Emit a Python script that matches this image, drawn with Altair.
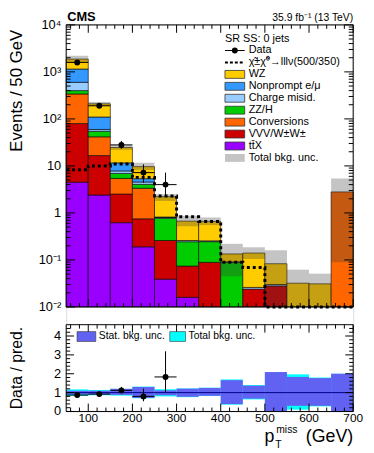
import altair as alt
import pandas as pd

# ---------------- data ----------------
bin_lo = [50, 100, 150, 200, 250, 300, 350, 400, 450, 500, 550, 600, 650]
bin_hi = [100, 150, 200, 250, 300, 350, 400, 450, 500, 550, 600, 650, 700]

# stacked backgrounds (bottom -> top)
proc_names = ["tt\u0304X", "VVV/W\u00b1W\u00b1", "Conversions", "ZZ/H",
              "Charge misid.", "Nonprompt e/\u03bc", "WZ"]
proc_colors = ["#9900ff", "#cc0000", "#ff6600", "#00cc00",
               "#99ccff", "#3399ff", "#ffcc00"]

ttx   = [4.5, 2.4, 0.62, 0.19, 0.039, 0.016, 0, 0, 0, 0, 0, 0, 0]
vvv   = [75, 14.2, 1.9, 0.56, 0.22, 0.058, 0.089, 0, 0.024, 0.028, 0, 0, 0]
conv  = [260, 25, 2.9, 2.6, 0, 0, 0, 0, 0, 0, 0, 0, 2.8]
zzh   = [60, 13, 1.5, 0.7, 0.51, 0.17, 0.156, 0.089, 0, 0, 0, 0, 0]
chmis = [200, 5, 0.9, 0.5, 0.03, 0.015, 0.01, 0.002, 0.002, 0.002, 0, 0, 0]
nonpr = [550, 50, 3.8, 0.8, 0.02, 0, 0, 0, 0, 0, 0, 0, 0]
wz    = [720, 100, 13, 4.3, 1.4, 0.41, 0.405, 0.043, 0.114, 0.053, 0.032, 0.031, 0]
stack_vals = [ttx, vvv, conv, zzh, chmis, nonpr, wz]

band_lo = [1600, 190, 22, 8.2, 1.8, 0.52, 0.55, 0.045, 0.105, 0, 0, 0, 0.089]
band_hi = [2200, 230, 28, 11.7, 2.5, 0.87, 0.8, 0.22, 0.186, 0.16, 0.062, 0.051, 5.4]

signal = [8.3, 10, 11, 5.7, 2.3, 0.83, 0.66, 0.089, 0.069, 0, 0, 0, 0]

data_val = [1590, 190, 28, 7.2, 4.0]
data_lo  = [1550, 176, 23, 4.4, 2.4]
data_hi  = [1630, 204, 34, 10.8, 7.2]

ratio_val = [0.87, 0.92, 1.12, 0.80, 1.83]
ratio_lo  = [0.85, 0.86, 0.95, 0.54, 1.00]
ratio_hi  = [0.89, 0.98, 1.30, 1.21, 3.19]

stat_lo = [0.90, 0.90, 0.88, 0.72, 0.86, 0.78, 0.83, 0.39, 0.68, 0.0, 0.30, 0.30, 0.0]
stat_hi = [1.10, 1.10, 1.20, 1.30, 1.12, 1.21, 1.25, 1.66, 1.37, 2.09, 1.83, 1.77, 2.0]
tot_lo  = [0.83, 0.86, 0.84, 0.70, 0.80, 0.76, 0.82, 0.36, 0.64, 0.0, 0.10, 0.27, 0.0]
tot_hi  = [1.17, 1.14, 1.20, 1.32, 1.18, 1.22, 1.26, 1.70, 1.40, 2.09, 1.97, 1.80, 2.0]

y_major = [0.01, 0.1, 1, 10, 100, 1000, 10000]
y_labels = ["10\u207b\u00b2", "10\u207b\u00b9", "1", "10", "10\u00b2", "10\u00b3", "10\u2074"]
x_major = [100, 200, 300, 400, 500, 600, 700]
x_labels = ["100", "200", "300", "400", "500", "600", "700"]
r_major = [0, 1, 2, 3, 4]
r_labels = ["0", "1", "2", "3", "4"]

FONT = "Liberation Sans"
FLOOR = 1e-3
W = 291
H1 = 286            # upper panel height
GAP = 18            # gap between panels
H2 = 88             # ratio panel height
R0 = H1 + GAP       # top of ratio panel
HT = R0 + H2        # total height

# ---------------- tables ----------------
hist_rows = []
for i in range(len(bin_lo)):
    cum = 0.0
    for name, vals in zip(proc_names, stack_vals):
        v = vals[i]
        if v > 0:
            hist_rows.append({"x0": bin_lo[i], "x1": bin_hi[i],
                              "lo": max(cum, FLOOR), "hi": cum + v, "proc": name})
        cum += v
hist_df = pd.DataFrame(hist_rows)

band_df = pd.DataFrame({"x0": bin_lo, "x1": bin_hi,
                        "lo": [max(v, FLOOR) for v in band_lo], "hi": band_hi})

sig_rows = []
for i in range(len(bin_lo)):
    v = max(signal[i], FLOOR)
    sig_rows.append({"x": bin_lo[i], "v": v, "k": 2 * i})
    sig_rows.append({"x": bin_hi[i], "v": v, "k": 2 * i + 1})
sig_df = pd.DataFrame(sig_rows)

nd = len(data_val)
centers = [(a + b) / 2 for a, b in zip(bin_lo[:nd], bin_hi[:nd])]
data_df = pd.DataFrame({"x0": bin_lo[:nd], "x1": bin_hi[:nd], "c": centers,
                        "v": data_val, "lo": data_lo, "hi": data_hi})
ratio_df = pd.DataFrame({"x0": bin_lo[:nd], "x1": bin_hi[:nd], "c": centers,
                         "v": ratio_val, "lo": ratio_lo, "hi": ratio_hi})
rband_df = pd.DataFrame({"x0": bin_lo, "x1": bin_hi, "slo": stat_lo, "shi": stat_hi,
                         "tlo": tot_lo, "thi": tot_hi})

one = pd.DataFrame({"one": [1]})

XS = alt.Scale(domain=[50, 700], nice=False, zero=False)
YS = alt.Scale(type="log", domain=[0.01, 10000], range=[H1, 0], nice=False, clamp=True)
RS = alt.Scale(domain=[0, 4.6], range=[HT, R0], nice=False, zero=False)
color_scale = alt.Scale(domain=proc_names, range=proc_colors)


def minors(majors, subs):
    return [m * s for m in majors for s in subs]


y_minor = minors([0.01, 0.1, 1, 10, 100, 1000], [2, 3, 4, 5, 6, 7, 8, 9])
x_minor = [v for v in range(60, 700, 20) if v % 100 != 0]
r_minor = [round(v * 0.2, 1) for v in range(1, 23) if v % 5 != 0]


def xticks(vals, size, top, bottom):
    df = pd.DataFrame({"t": vals})
    base = alt.Chart(df).mark_rule(color="black", strokeWidth=1)
    return [base.encode(x=alt.X("t:Q", scale=XS, axis=None),
                        y=alt.value(bottom), y2=alt.value(bottom - size)),
            base.encode(x=alt.X("t:Q", scale=XS, axis=None),
                        y=alt.value(top), y2=alt.value(top + size))]


def yticks(vals, size, scale):
    df = pd.DataFrame({"t": vals})
    base = alt.Chart(df).mark_rule(color="black", strokeWidth=1)
    return [base.encode(y=alt.Y("t:Q", scale=scale, axis=None),
                        x=alt.value(0), x2=alt.value(size)),
            base.encode(y=alt.Y("t:Q", scale=scale, axis=None),
                        x=alt.value(W - size), x2=alt.value(W))]


def ylabels(vals, labels, scale, size=13):
    df = pd.DataFrame({"t": vals, "lab": labels})
    return alt.Chart(df).mark_text(align="right", baseline="middle", fontSize=size,
                                   color="black", dx=-5).encode(
        y=alt.Y("t:Q", scale=scale, axis=None), x=alt.value(0), text="lab:N")


def vtext(txt, x, y, size=11, align="left", baseline="middle", weight="normal", angle=0):
    return alt.Chart(one).mark_text(text=txt, align=align, baseline=baseline,
                                    fontSize=size, fontWeight=weight, color="black",
                                    angle=angle).encode(
        x=alt.value(x), y=alt.value(y))


def vrect(x0, x1, y0, y1, **kw):
    return alt.Chart(one).mark_rect(**kw).encode(
        x=alt.value(x0), x2=alt.value(x1), y=alt.value(y0), y2=alt.value(y1))


# ---------------- upper panel ----------------
hist = alt.Chart(hist_df).mark_rect(stroke="black", strokeWidth=0.6).encode(
    x=alt.X("x0:Q", scale=XS, axis=None), x2="x1:Q",
    y=alt.Y("lo:Q", scale=YS, axis=None), y2="hi:Q",
    color=alt.Color("proc:N", scale=color_scale, legend=None))

band = alt.Chart(band_df).mark_rect(fill="#3a3a3a", opacity=0.3).encode(
    x=alt.X("x0:Q", scale=XS, axis=None), x2="x1:Q",
    y=alt.Y("lo:Q", scale=YS, axis=None), y2="hi:Q")

sig = alt.Chart(sig_df).mark_line(color="black", strokeDash=[3, 3], strokeWidth=3,
                                  strokeCap="butt").encode(
    x=alt.X("x:Q", scale=XS, axis=None), y=alt.Y("v:Q", scale=YS, axis=None),
    order="k:Q")

verr = alt.Chart(data_df).mark_rule(color="black", strokeWidth=1).encode(
    x=alt.X("c:Q", scale=XS, axis=None), y=alt.Y("lo:Q", scale=YS, axis=None), y2="hi:Q")
herr = alt.Chart(data_df).mark_rule(color="black", strokeWidth=1).encode(
    x=alt.X("x0:Q", scale=XS, axis=None), x2="x1:Q", y=alt.Y("v:Q", scale=YS, axis=None))
pts = alt.Chart(data_df).mark_circle(color="black", size=36, opacity=1).encode(
    x=alt.X("c:Q", scale=XS, axis=None), y=alt.Y("v:Q", scale=YS, axis=None))

up_ticks = (xticks(x_major, 8, 0, H1) + xticks(x_minor, 4, 0, H1) +
            yticks(y_major, 9, YS) + yticks(y_minor, 4.5, YS))

upper = alt.layer(hist, band, sig, verr, herr, pts, *up_ticks,
                  ylabels(y_major, y_labels, YS))

# ---------------- lower panel ----------------
tband = alt.Chart(rband_df).mark_rect(color="#00ffff").encode(
    x=alt.X("x0:Q", scale=XS, axis=None), x2="x1:Q",
    y=alt.Y("tlo:Q", scale=RS, axis=None), y2="thi:Q")
sband = alt.Chart(rband_df).mark_rect(color="#6262f2").encode(
    x=alt.X("x0:Q", scale=XS, axis=None), x2="x1:Q",
    y=alt.Y("slo:Q", scale=RS, axis=None), y2="shi:Q")
unity = alt.Chart(one).mark_rule(color="#00008b", strokeWidth=1).encode(
    y=alt.Y("one:Q", scale=RS, axis=None))
rverr = alt.Chart(ratio_df).mark_rule(color="black", strokeWidth=1).encode(
    x=alt.X("c:Q", scale=XS, axis=None), y=alt.Y("lo:Q", scale=RS, axis=None), y2="hi:Q")
rherr = alt.Chart(ratio_df).mark_rule(color="black", strokeWidth=1).encode(
    x=alt.X("x0:Q", scale=XS, axis=None), x2="x1:Q", y=alt.Y("v:Q", scale=RS, axis=None))
rpts = alt.Chart(ratio_df).mark_circle(color="black", size=36, opacity=1).encode(
    x=alt.X("c:Q", scale=XS, axis=None), y=alt.Y("v:Q", scale=RS, axis=None))

low_ticks = (xticks(x_major, 8, R0, HT) + xticks(x_minor, 4, R0, HT) +
             yticks(r_major, 8, RS) + yticks(r_minor, 4, RS))

xlab_df = pd.DataFrame({"t": x_major, "lab": x_labels})
xlabs = alt.Chart(xlab_df).mark_text(align="center", baseline="top", fontSize=12,
                                     color="black").encode(
    x=alt.X("t:Q", scale=XS, axis=None), y=alt.value(HT + 2), text="lab:N")

lower = alt.layer(tband, sband, unity, rverr, rherr, rpts, *low_ticks,
                  ylabels(r_major, r_labels, RS), xlabs)

# ---------------- annotations (pixel placed) ----------------
LX0, LX1, LTX, LY0, LDY = 161, 181, 185, 26, 12.1
leg_labels = ["Data", "\u03c7\u0303\u00b1\u03c7\u0303\u2070\u2192lll\u03bd(500/350)"] + \
    list(reversed(proc_names)) + ["Total bkg. unc."]
annot = [vtext("SR SS: 0 jets", LX0, LY0 - LDY)]
for r, lab in enumerate(leg_labels):
    annot.append(vtext(lab, LTX, LY0 + r * LDY))
for k, col in enumerate(reversed(proc_colors)):
    yc = LY0 + (k + 2) * LDY
    annot.append(vrect(LX0, LX1, yc - 4, yc + 4, fill=col, stroke="#333", strokeWidth=0.8))
yc = LY0 + (len(leg_labels) - 1) * LDY
annot.append(vrect(LX0, LX1, yc - 4, yc + 4, fill="#3a3a3a", opacity=0.3))
annot.append(alt.Chart(one).mark_rule(color="black").encode(
    x=alt.value(LX0), x2=alt.value(LX1), y=alt.value(LY0)))
annot.append(alt.Chart(one).mark_circle(color="black", size=36, opacity=1).encode(
    x=alt.value((LX0 + LX1) / 2), y=alt.value(LY0)))
annot.append(alt.Chart(one).mark_rule(color="black", strokeDash=[3, 2],
                                      strokeWidth=2).encode(
    x=alt.value(LX0), x2=alt.value(LX1), y=alt.value(LY0 + LDY)))
annot.append(vtext("CMS", 1, -4, size=13, baseline="alphabetic", weight="bold"))
annot.append(vtext("35.9 fb\u207b\u00b9 (13 TeV)", W, -4, size=10.5, align="right",
                   baseline="alphabetic"))
# axis titles
annot.append(vtext("Events / 50 GeV", -50, 5, size=17, align="right", angle=270))
annot.append(vtext("Data / pred.", -50, R0 + H2 / 2, size=16, align="center", angle=270))
# ratio legend
annot += [
    vrect(11, 30, R0 + 7, R0 + 17, fill="#6262f2", stroke="#333", strokeWidth=0.6),
    vtext("Stat. bkg. unc.", 33, R0 + 12, size=10.5),
    vrect(105, 121, R0 + 7, R0 + 17, fill="#00ffff", stroke="#333", strokeWidth=0.6),
    vtext("Total bkg. unc.", 124, R0 + 12, size=10.5),
]
# x title
annot += [
    vtext("p", 201, R0 + 119, size=18, baseline="alphabetic"),
    vtext("miss", 213, R0 + 110, size=10.5, baseline="alphabetic"),
    vtext("T", 212, R0 + 125, size=10.5, baseline="alphabetic"),
    vtext("(GeV)", W, R0 + 119, size=18, align="right", baseline="alphabetic"),
]
# panel frames
annot += [
    vrect(0, W, 0, H1, fillOpacity=0, stroke="black", strokeWidth=1),
    vrect(0, W, R0, HT, fillOpacity=0, stroke="black", strokeWidth=1),
]

chart = alt.layer(upper, lower, *annot).resolve_scale(y="independent").properties(
    width=W, height=HT,
    padding={"left": 0, "top": 0, "right": 2, "bottom": 0}
).configure_view(strokeWidth=0).configure(font=FONT)

chart.save("out.html", embed_options={"renderer": "svg", "actions": False})
